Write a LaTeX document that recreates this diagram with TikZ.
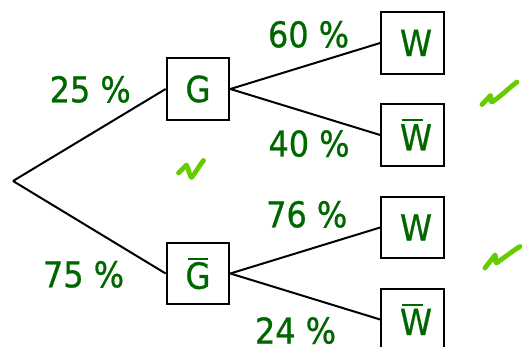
\documentclass[tikz,border=0pt]{standalone}
\usepackage{fontspec}
\setmainfont{DejaVu Sans Condensed}[FakeBold=0.7]
\definecolor{txtgreen}{RGB}{0,102,0}
\definecolor{tickgreen}{RGB}{102,204,0}
% letter with a short bar above it (complement event)
\newcommand{\barred}[1]{\leavevmode\rlap{\hspace{2pt}\rule[29pt]{20.5pt}{2pt}}#1}
\tikzset{
  event/.style={draw=black, line width=2.2pt, minimum width=62.5pt, minimum height=61.5pt,
    inner sep=0pt, text=txtgreen, font=\fontsize{36}{36}\selectfont},
  prob/.style={anchor=base west, inner sep=0pt, text depth=0pt, text=txtgreen,
    font=\fontsize{35.5}{36}\selectfont},
  branch/.style={line width=2pt, draw=black},
  tick/.style={draw=tickgreen, line width=4.8pt, line cap=round, line join=round}
}
\begin{document}
\begin{tikzpicture}[x=1pt, y=-1pt]
  \useasboundingbox (0,0) rectangle (522,347);
  % root of the tree
  \coordinate (root) at (13,181);
  % first stage
  \node[event] (G)  at (198,89)    {\makebox[25pt][l]{G}};
  \node[event] (Gb) at (198,273.5) {\makebox[25pt][l]{\barred{G}}};
  % second stage
  \node[event] (W1)  at (412.5,43)    {\makebox[25pt][l]{W}};
  \node[event] (Wb1) at (412.5,135)   {\makebox[25pt][l]{\barred{W}}};
  \node[event] (W2)  at (412.5,227.5) {\makebox[25pt][l]{W}};
  \node[event] (Wb2) at (412.5,319.5) {\makebox[25pt][l]{\barred{W}}};
  % branches
  \draw[branch] (root) -- (G.west);
  \draw[branch] (root) -- (Gb.west);
  \draw[branch] (G.east) -- (W1.west);
  \draw[branch] (G.east) -- (Wb1.west);
  \draw[branch] (Gb.east) -- (W2.west);
  \draw[branch] (Gb.east) -- (Wb2.west);
  % branch probabilities
  \node[prob] (p25) at (49.5,102.3) {25 \%};
  \node[prob] (p75) at (42.8,287.3)   {75 \%};
  \node[prob] (p60) at (267.8,47.3)   {60 \%};
  \node[prob] (p40) at (268.3,156.5) {40 \%};
  \node[prob] (p76) at (266,227.3) {76 \%};
  \node[prob] (p24) at (254.8,343.5)  {24 \%};
  % hand-drawn check marks
  \draw[tick] (178.5,173) -- (186.5,165) .. controls (188.5,168) and (189.5,176) .. (191.5,177.5)
    .. controls (194,175) and (199,166) .. (203.5,160.5);
  \draw[tick] (482,104.5) -- (490.5,95.5) .. controls (491.5,97) and (490,102) .. (492,102)
    .. controls (500,97) and (510,87) .. (517,82);
  \draw[tick] (485,268) -- (495,255) .. controls (496.5,257) and (495,263) .. (496.5,263)
    .. controls (505,257) and (514,250) .. (520,246.5);
\end{tikzpicture}
\end{document}
